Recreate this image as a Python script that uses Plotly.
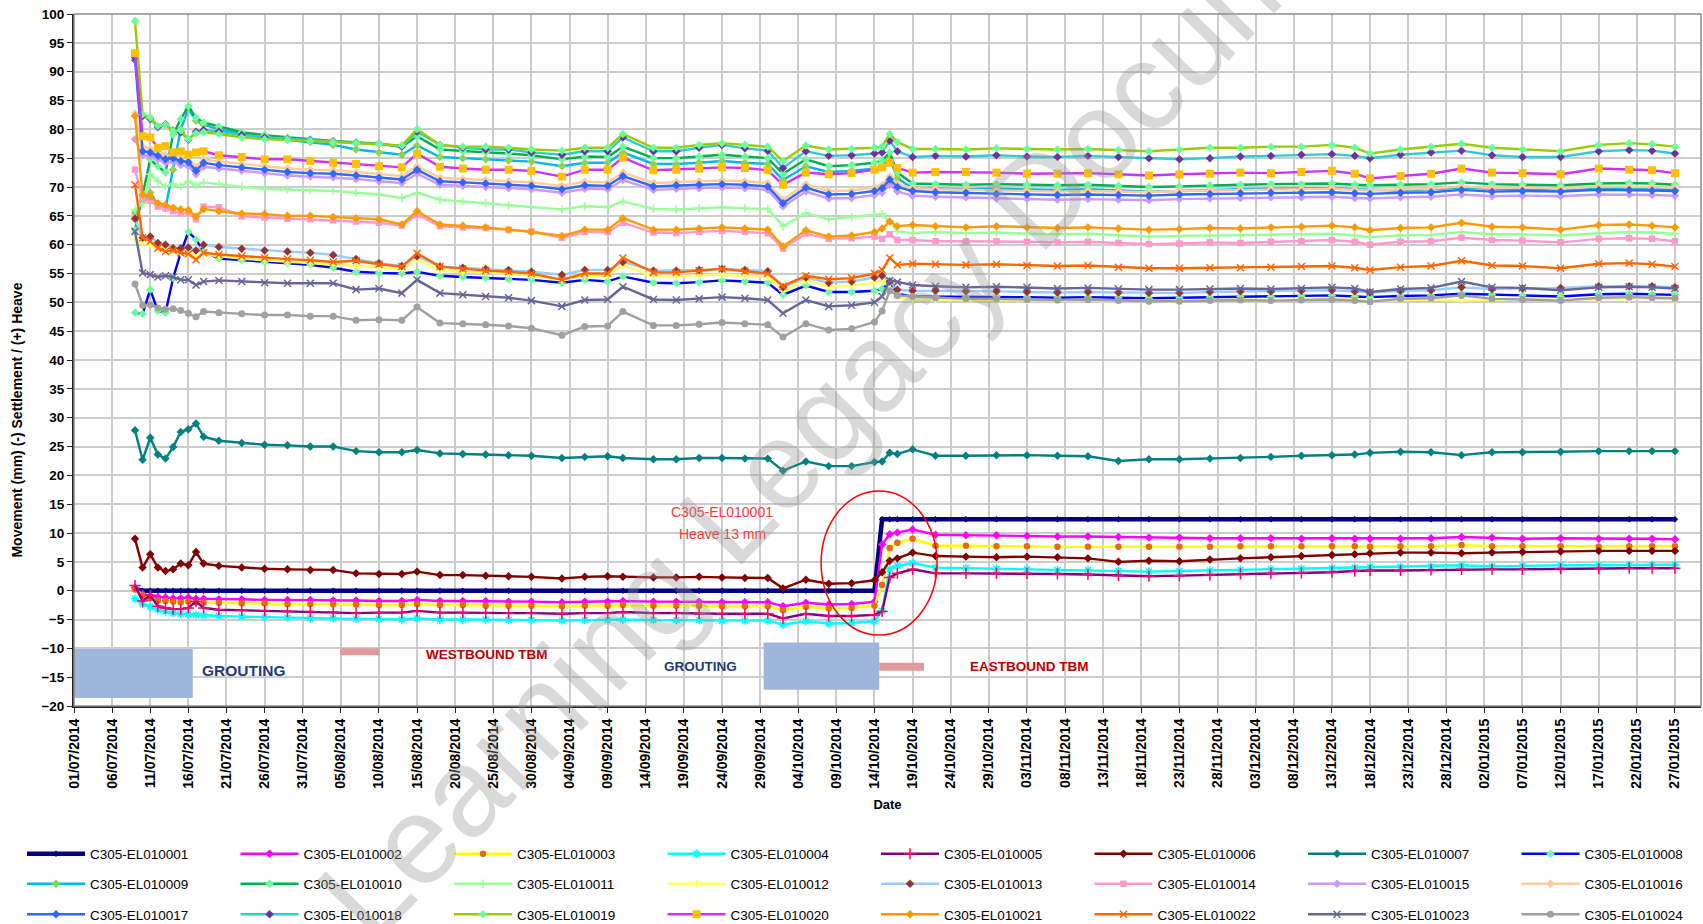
import plotly.graph_objects as go

FONT = "Liberation Sans, Arial, sans-serif"

dates = ["2014-07-09", "2014-07-10", "2014-07-11", "2014-07-12", "2014-07-13", "2014-07-14", "2014-07-15",
         "2014-07-16", "2014-07-17", "2014-07-18", "2014-07-20", "2014-07-23", "2014-07-26", "2014-07-29",
         "2014-08-01", "2014-08-04", "2014-08-07", "2014-08-10", "2014-08-13", "2014-08-15", "2014-08-18",
         "2014-08-21", "2014-08-24", "2014-08-27", "2014-08-30", "2014-09-03", "2014-09-06", "2014-09-09",
         "2014-09-11", "2014-09-15", "2014-09-18", "2014-09-21", "2014-09-24", "2014-09-27", "2014-09-30",
         "2014-10-02", "2014-10-05", "2014-10-08", "2014-10-11", "2014-10-14", "2014-10-15", "2014-10-16",
         "2014-10-17", "2014-10-19", "2014-10-22", "2014-10-26", "2014-10-30", "2014-11-03", "2014-11-07",
         "2014-11-11", "2014-11-15", "2014-11-19", "2014-11-23", "2014-11-27", "2014-12-01", "2014-12-05",
         "2014-12-09", "2014-12-13", "2014-12-16", "2014-12-18", "2014-12-22", "2014-12-26", "2014-12-30",
         "2015-01-03", "2015-01-07", "2015-01-12", "2015-01-17", "2015-01-21", "2015-01-24", "2015-01-27"]

s01 = [0.3, 0.0, 0.0, 0.0, 0.0, 0.0, 0.0, 0.0, 0.0, 0.0,
       0.0, 0.0, 0.0, 0.0, 0.0, 0.0, 0.0, 0.0, 0.0, 0.0,
       0.0, 0.0, 0.0, 0.0, 0.0, 0.0, 0.0, 0.0, 0.0, 0.0,
       0.0, 0.0, 0.0, 0.0, 0.0, 0.0, 0.0, 0.0, 0.0, 0.0,
       12.4, 12.4, 12.4, 12.4, 12.4, 12.4, 12.4, 12.4, 12.4, 12.4,
       12.4, 12.4, 12.4, 12.4, 12.4, 12.4, 12.4, 12.4, 12.4, 12.4,
       12.4, 12.4, 12.4, 12.4, 12.4, 12.4, 12.4, 12.4, 12.4, 12.4]
s02 = [0.5, -0.6, -0.9, -1.1, -1.2, -1.3, -1.3, -1.2, -1.4, -1.4,
       -1.5, -1.5, -1.6, -1.6, -1.6, -1.7, -1.7, -1.8, -1.8, -1.6,
       -1.8, -1.8, -1.8, -1.9, -1.9, -2.0, -1.9, -1.9, -1.8, -1.9,
       -1.9, -1.9, -2.0, -2.0, -2.0, -2.7, -2.1, -2.4, -2.3, -1.9,
       8.0, 9.8, 10.1, 10.6, 9.7, 9.6, 9.6, 9.5, 9.4, 9.4,
       9.3, 9.2, 9.2, 9.1, 9.1, 9.1, 9.0, 9.1, 9.0, 9.0,
       9.0, 9.1, 9.3, 9.2, 9.0, 9.1, 9.0, 9.0, 9.0, 8.9]
s03 = [0.2, -0.8, -1.3, -1.7, -1.8, -1.9, -2.0, -1.9, -2.0, -2.1,
       -2.1, -2.2, -2.2, -2.3, -2.3, -2.3, -2.4, -2.5, -2.5, -2.3,
       -2.5, -2.5, -2.6, -2.6, -2.6, -2.7, -2.6, -2.6, -2.5, -2.6,
       -2.6, -2.6, -2.7, -2.7, -2.7, -3.4, -2.8, -3.1, -3.0, -2.6,
       1.0, 7.4, 8.3, 9.0, 7.8, 7.8, 7.7, 7.7, 7.6, 7.6,
       7.6, 7.6, 7.6, 7.6, 7.7, 7.7, 7.7, 7.7, 7.7, 7.6,
       7.7, 7.7, 7.9, 7.7, 7.7, 7.7, 7.6, 7.7, 7.7, 7.7]
s04 = [-1.4, -2.3, -2.8, -3.3, -3.6, -3.9, -4.0, -4.1, -4.2, -4.3,
       -4.4, -4.5, -4.6, -4.7, -4.8, -4.8, -4.9, -4.9, -5.0, -4.8,
       -5.0, -5.0, -5.0, -5.1, -5.1, -5.2, -5.1, -5.1, -5.0, -5.1,
       -5.1, -5.1, -5.2, -5.2, -5.2, -5.9, -5.3, -5.7, -5.6, -5.3,
       -3.5, 3.8, 4.3, 4.8, 4.0, 3.9, 3.8, 3.7, 3.6, 3.6,
       3.4, 3.3, 3.4, 3.5, 3.6, 3.7, 3.8, 3.9, 4.0, 4.1,
       4.1, 4.2, 4.4, 4.2, 4.3, 4.4, 4.4, 4.4, 4.5, 4.5]
s05 = [0.9, -1.8, -0.8, -2.7, -3.0, -3.2, -3.2, -3.0, -1.9, -3.0,
       -3.3, -3.4, -3.5, -3.6, -3.6, -3.7, -3.9, -3.8, -3.8, -3.5,
       -3.8, -3.8, -3.9, -3.9, -3.9, -4.0, -3.9, -3.9, -3.7, -3.9,
       -3.9, -4.0, -4.0, -4.0, -4.0, -4.8, -4.0, -4.4, -4.4, -4.2,
       -3.6, 2.3, 3.0, 3.7, 3.0, 3.0, 3.0, 3.0, 2.9, 2.8,
       2.6, 2.5, 2.6, 2.7, 2.9, 3.0, 3.1, 3.2, 3.4, 3.5,
       3.5, 3.6, 3.7, 3.7, 3.7, 3.8, 3.8, 3.9, 3.9, 3.9]
s06 = [9.0, 4.0, 6.3, 4.0, 3.4, 3.7, 4.7, 4.4, 6.7, 4.7,
       4.3, 4.0, 3.8, 3.7, 3.6, 3.6, 3.0, 2.9, 2.9, 3.3,
       2.7, 2.7, 2.6, 2.5, 2.4, 2.1, 2.4, 2.5, 2.4, 2.3,
       2.3, 2.4, 2.3, 2.2, 2.2, 0.4, 1.9, 1.2, 1.3, 1.8,
       3.2, 5.2, 5.6, 6.6, 6.0, 5.9, 5.8, 5.9, 5.8, 5.6,
       5.0, 5.2, 5.1, 5.4, 5.6, 5.8, 6.0, 6.2, 6.3, 6.5,
       6.6, 6.6, 6.5, 6.6, 6.7, 6.8, 6.9, 6.9, 6.9, 6.9]
s07 = [27.8, 22.7, 26.5, 23.6, 22.9, 24.9, 27.5, 28.0, 29.0, 26.7,
       26.0, 25.6, 25.3, 25.2, 25.0, 25.0, 24.2, 24.0, 24.0, 24.4,
       23.8, 23.7, 23.6, 23.5, 23.4, 23.0, 23.2, 23.3, 23.0, 22.8,
       22.8, 23.0, 23.0, 22.9, 22.9, 20.8, 22.4, 21.6, 21.6, 22.3,
       22.4, 23.9, 23.7, 24.5, 23.4, 23.4, 23.5, 23.5, 23.4, 23.3,
       22.5, 22.8, 22.8, 22.9, 23.0, 23.2, 23.4, 23.5, 23.6, 23.9,
       24.1, 24.0, 23.5, 24.0, 24.0, 24.1, 24.2, 24.2, 24.2, 24.2]
s08 = [48.2, 48.0, 52.2, 48.5, 48.2, 54.2, 58.6, 62.2, 60.9, 58.8,
       57.6, 57.3, 57.0, 56.8, 56.5, 56.0, 55.3, 55.1, 55.0, 55.3,
       54.6, 54.4, 54.2, 54.0, 53.9, 53.4, 53.9, 53.6, 54.5, 53.4,
       53.3, 53.5, 53.8, 53.6, 53.4, 51.3, 52.9, 51.8, 51.8, 52.0,
       52.3, 53.5, 51.5, 51.0, 51.0, 50.9, 51.0, 50.9, 50.8, 50.9,
       50.8, 50.7, 50.8, 50.9, 51.0, 51.0, 51.1, 51.2, 51.0, 50.9,
       51.1, 51.2, 51.5, 51.3, 51.2, 51.0, 51.4, 51.5, 51.4, 51.3]
s09 = [65.5, 67.5, 69.0, 67.0, 66.3, 73.0, 80.0, 83.5, 81.5, 80.8,
       80.0, 79.2, 78.5, 78.2, 77.8, 77.3, 76.5, 76.0, 75.6, 77.2,
       75.2, 75.0, 74.8, 74.6, 74.4, 73.6, 74.2, 74.2, 76.0, 74.0,
       74.0, 74.2, 74.5, 74.2, 74.0, 71.2, 73.6, 72.6, 72.8, 73.2,
       73.6, 75.0, 71.5, 69.8, 69.7, 69.6, 69.7, 69.6, 69.5, 69.6,
       69.4, 69.2, 69.3, 69.5, 69.6, 69.7, 69.7, 69.8, 69.6, 69.5,
       69.4, 69.6, 69.9, 69.7, 69.6, 69.3, 69.7, 69.8, 69.7, 69.5]
s10 = [62.5, 68.4, 74.8, 73.6, 72.5, 79.1, 81.8, 84.0, 82.0, 81.2,
       80.5, 79.5, 79.0, 78.6, 78.3, 78.0, 77.8, 77.5, 77.0, 78.8,
       76.5, 76.2, 76.0, 75.8, 75.5, 74.8, 75.3, 75.2, 77.0, 75.0,
       75.0, 75.3, 75.6, 75.3, 75.0, 72.3, 74.8, 73.6, 73.8, 74.2,
       74.6, 76.0, 72.5, 70.6, 70.5, 70.4, 70.5, 70.4, 70.3, 70.4,
       70.2, 70.0, 70.1, 70.3, 70.4, 70.5, 70.5, 70.6, 70.4, 70.3,
       70.4, 70.5, 70.8, 70.5, 70.4, 70.3, 70.6, 70.7, 70.6, 70.4]
s11 = [66.0, 67.2, 72.2, 71.0, 70.1, 70.5, 70.1, 71.0, 70.3, 70.8,
       70.5, 70.0, 69.7, 69.6, 69.5, 69.3, 69.0, 68.7, 68.1, 69.0,
       67.8, 67.5, 67.2, 66.8, 66.5, 66.1, 66.7, 66.5, 67.5, 66.2,
       66.1, 66.3, 66.5, 66.3, 66.2, 63.2, 65.5, 64.4, 64.8, 65.2,
       65.3, 64.0, 62.3, 62.0, 62.2, 62.0, 62.1, 61.9, 61.8, 61.9,
       61.6, 61.4, 61.5, 61.6, 61.6, 61.7, 61.8, 61.9, 61.6, 61.3,
       61.6, 61.7, 62.2, 61.8, 61.8, 61.6, 62.0, 62.2, 62.1, 61.9]
s12 = [61.0, 60.2, 60.0, 59.5, 59.2, 58.9, 58.7, 58.5, 58.0, 58.3,
       58.0, 57.6, 57.3, 57.0, 56.8, 56.6, 56.3, 56.0, 55.8, 57.5,
       55.5, 55.3, 55.2, 55.0, 54.6, 54.0, 54.6, 54.6, 56.5, 54.5,
       54.5, 54.6, 54.8, 54.6, 54.4, 52.0, 53.8, 52.8, 52.9, 53.4,
       53.8, 52.5, 50.8, 50.5, 50.5, 50.4, 50.5, 50.4, 50.3, 50.4,
       50.3, 50.2, 50.2, 50.4, 50.5, 50.4, 50.5, 50.6, 50.5, 50.2,
       50.4, 50.5, 50.3, 50.5, 50.6, 50.4, 50.6, 50.7, 50.6, 50.6]
s13 = [64.5, 61.2, 61.4, 60.3, 60.0, 59.4, 59.4, 59.5, 59.0, 60.0,
       59.6, 59.3, 59.0, 58.8, 58.6, 58.2, 57.5, 56.8, 56.3, 58.0,
       56.2, 56.0, 55.8, 55.6, 55.3, 54.8, 55.6, 55.6, 57.0, 55.5,
       55.5, 55.6, 55.8, 55.6, 55.4, 52.6, 54.3, 53.4, 53.6, 54.3,
       54.6, 53.6, 52.2, 52.0, 52.0, 51.9, 51.9, 51.8, 51.7, 51.8,
       51.7, 51.6, 51.6, 51.8, 51.9, 51.9, 52.0, 52.1, 51.9, 51.7,
       52.0, 52.1, 52.6, 52.3, 52.4, 52.5, 52.8, 52.8, 52.8, 52.6]
s14 = [73.0, 68.0, 67.6, 66.6, 66.3, 65.8, 65.4, 65.5, 64.4, 66.6,
       66.5, 64.9, 64.7, 64.5, 64.4, 64.2, 64.0, 63.8, 63.3, 65.2,
       63.2, 63.0, 62.9, 62.6, 62.3, 61.2, 62.2, 62.2, 63.8, 62.1,
       62.0, 62.2, 62.4, 62.2, 62.0, 59.3, 61.9, 61.0, 61.1, 61.4,
       61.0, 61.8, 60.8, 60.8, 60.6, 60.6, 60.6, 60.5, 60.4, 60.5,
       60.3, 60.1, 60.2, 60.4, 60.3, 60.5, 60.6, 60.8, 60.5, 60.0,
       60.5, 60.6, 61.2, 60.8, 60.7, 60.4, 61.0, 61.1, 61.0, 60.6]
s15 = [78.3, 75.6, 75.3, 74.8, 74.2, 74.4, 73.8, 73.6, 72.2, 73.5,
       73.2, 72.8, 72.4, 72.0, 71.8, 71.7, 71.4, 71.0, 70.7, 72.3,
       70.4, 70.2, 70.0, 69.8, 69.6, 69.0, 69.7, 69.6, 71.2, 69.5,
       69.7, 69.8, 69.9, 69.8, 69.5, 66.6, 69.2, 68.0, 68.1, 68.6,
       69.0, 70.4, 69.2, 68.5, 68.3, 68.2, 68.0, 67.9, 67.8, 67.9,
       67.8, 67.7, 67.9, 68.0, 68.1, 68.2, 68.2, 68.3, 68.1, 68.0,
       68.2, 68.3, 68.7, 68.4, 68.5, 68.4, 68.7, 68.7, 68.6, 68.5]
s16 = [82.8, 77.0, 76.6, 76.0, 75.5, 75.6, 75.1, 74.9, 73.5, 74.8,
       74.4, 74.0, 73.6, 73.2, 73.0, 72.9, 72.6, 72.2, 71.9, 73.6,
       71.6, 71.4, 71.2, 71.0, 70.8, 70.2, 70.9, 70.8, 72.5, 70.7,
       70.9, 71.0, 71.1, 71.0, 70.7, 67.8, 70.5, 69.3, 69.4, 69.9,
       70.3, 71.8, 70.5, 69.8, 69.6, 69.5, 69.4, 69.3, 69.2, 69.3,
       69.2, 69.1, 69.3, 69.4, 69.5, 69.6, 69.6, 69.7, 69.5, 69.4,
       69.6, 69.7, 70.1, 69.8, 69.9, 69.8, 70.1, 70.1, 70.0, 69.9]
s17 = [92.0, 76.2, 76.0, 75.4, 74.8, 75.0, 74.5, 74.3, 72.8, 74.2,
       73.8, 73.4, 73.0, 72.6, 72.4, 72.3, 72.0, 71.6, 71.3, 73.0,
       71.0, 70.8, 70.6, 70.4, 70.2, 69.6, 70.3, 70.2, 71.9, 70.1,
       70.3, 70.4, 70.5, 70.4, 70.1, 67.2, 69.9, 68.7, 68.8, 69.3,
       69.8, 71.3, 70.0, 69.3, 69.1, 69.0, 68.8, 68.7, 68.6, 68.7,
       68.6, 68.5, 68.7, 68.8, 68.9, 69.0, 69.0, 69.1, 68.9, 68.8,
       69.0, 69.1, 69.5, 69.2, 69.3, 69.2, 69.5, 69.5, 69.4, 69.3]
s18 = [92.5, 82.3, 81.8, 80.4, 80.9, 79.8, 79.5, 78.2, 79.6, 79.9,
       79.6, 79.0, 78.6, 78.3, 78.1, 77.9, 77.6, 77.5, 77.0, 79.6,
       77.3, 76.8, 76.5, 76.5, 76.0, 75.6, 76.2, 76.2, 78.6, 76.2,
       76.2, 76.8, 77.3, 76.7, 76.3, 73.3, 76.2, 75.4, 75.5, 75.8,
       76.0, 78.0, 76.2, 75.2, 75.4, 75.3, 75.5, 75.3, 75.2, 75.4,
       75.2, 75.0, 74.8, 75.0, 75.3, 75.4, 75.6, 75.7, 75.4, 75.0,
       75.6, 76.0, 76.3, 75.5, 75.2, 75.2, 76.2, 76.4, 76.3, 75.8]
s19 = [98.8, 82.6, 82.0, 80.6, 80.8, 79.7, 79.8, 78.3, 79.3, 79.5,
       79.2, 78.6, 78.3, 78.2, 78.0, 77.8, 77.6, 77.5, 77.2, 80.0,
       77.3, 77.0, 77.0, 76.8, 76.5, 76.3, 76.8, 76.8, 79.2, 76.8,
       76.8, 77.3, 77.6, 77.3, 77.0, 74.5, 77.2, 76.5, 76.6, 76.8,
       77.0, 79.2, 77.8, 76.6, 76.6, 76.5, 76.7, 76.6, 76.5, 76.6,
       76.4, 76.2, 76.5, 76.8, 76.8, 77.0, 77.0, 77.3, 76.8, 75.8,
       76.5, 77.0, 77.5, 76.8, 76.5, 76.2, 77.3, 77.6, 77.4, 77.0]
s20 = [93.2, 78.8, 78.6, 76.8, 77.1, 76.0, 76.2, 75.6, 76.0, 76.2,
       75.5, 75.2, 74.8, 74.8, 74.5, 74.2, 74.0, 73.6, 73.4, 75.8,
       73.5, 73.2, 73.0, 73.0, 72.8, 71.8, 73.0, 73.0, 75.1, 72.9,
       73.0, 73.2, 73.4, 73.3, 72.9, 70.4, 72.5, 72.2, 72.4, 73.0,
       73.4, 74.2, 73.3, 72.5, 72.6, 72.6, 72.5, 72.3, 72.3, 72.4,
       72.2, 72.0, 72.2, 72.3, 72.5, 72.4, 72.6, 72.8, 72.3, 71.5,
       71.9, 72.3, 73.2, 72.5, 72.4, 72.2, 73.2, 73.0, 72.9, 72.4]
s21 = [82.3, 68.7, 68.4, 67.2, 66.9, 66.4, 66.1, 66.0, 64.9, 66.2,
       65.8, 65.4, 65.3, 65.0, 65.0, 64.8, 64.6, 64.4, 63.5, 65.8,
       63.5, 63.3, 63.0, 62.6, 62.2, 61.5, 62.6, 62.6, 64.6, 62.6,
       62.6, 62.8, 63.0, 62.8, 62.6, 59.7, 62.5, 61.4, 61.6, 62.2,
       62.8, 64.0, 63.2, 63.4, 63.2, 63.0, 63.2, 63.0, 62.9, 63.0,
       62.8, 62.6, 62.7, 62.9, 62.8, 63.0, 63.1, 63.3, 63.0, 62.5,
       62.9, 63.0, 63.8, 63.1, 63.0, 62.6, 63.4, 63.5, 63.3, 63.0]
s22 = [70.4, 61.2, 60.6, 59.4, 58.8, 59.0, 58.6, 58.4, 57.4, 58.6,
       58.3, 58.0, 57.7, 57.5, 57.3, 57.0, 57.2, 56.6, 56.2, 58.5,
       56.2, 55.8, 55.5, 55.3, 55.0, 53.9, 55.0, 55.0, 57.7, 55.2,
       55.2, 55.5, 55.8, 55.4, 55.0, 52.8, 54.6, 54.0, 54.2, 55.0,
       55.6, 57.7, 56.5, 56.7, 56.6, 56.5, 56.6, 56.4, 56.3, 56.4,
       56.1, 55.9, 55.9, 56.0, 56.0, 56.1, 56.2, 56.3, 56.0, 55.6,
       56.1, 56.3, 57.2, 56.4, 56.3, 55.9, 56.7, 56.8, 56.6, 56.2]
s23 = [62.3, 55.1, 54.8, 54.4, 54.6, 54.4, 53.9, 53.9, 53.0, 53.6,
       53.8, 53.6, 53.4, 53.3, 53.3, 53.3, 52.2, 52.4, 51.6, 53.9,
       51.6, 51.3, 51.0, 50.8, 50.3, 49.3, 50.4, 50.5, 52.7, 50.5,
       50.4, 50.6, 50.9, 50.7, 50.4, 48.1, 50.4, 49.3, 49.5, 50.0,
       51.0, 53.8, 53.5, 53.0, 52.8, 52.6, 52.7, 52.6, 52.4, 52.5,
       52.3, 52.2, 52.2, 52.3, 52.4, 52.3, 52.4, 52.6, 52.4, 51.8,
       52.3, 52.5, 53.6, 52.6, 52.5, 52.1, 52.6, 52.7, 52.6, 52.4]
s24 = [53.2, 49.5, 49.6, 49.0, 48.8, 48.9, 48.6, 48.1, 47.5, 48.4,
       48.2, 48.0, 47.8, 47.8, 47.6, 47.6, 46.9, 47.0, 46.9, 49.2,
       46.4, 46.3, 46.1, 45.9, 45.5, 44.3, 45.8, 45.9, 48.4, 46.0,
       46.0, 46.2, 46.5, 46.3, 46.1, 44.0, 46.3, 45.2, 45.4, 46.6,
       48.5, 52.0, 51.2, 51.0, 50.8, 50.6, 50.6, 50.5, 50.4, 50.5,
       50.3, 50.2, 50.2, 50.3, 50.4, 50.3, 50.4, 50.5, 50.3, 50.1,
       50.6, 50.7, 51.2, 50.6, 50.5, 50.3, 50.8, 50.9, 50.8, 50.7]

names = ["C305-EL010001", "C305-EL010002", "C305-EL010003", "C305-EL010004", "C305-EL010005",
         "C305-EL010006", "C305-EL010007", "C305-EL010008", "C305-EL010009", "C305-EL010010",
         "C305-EL010011", "C305-EL010012", "C305-EL010013", "C305-EL010014", "C305-EL010015",
         "C305-EL010016", "C305-EL010017", "C305-EL010018", "C305-EL010019", "C305-EL010020",
         "C305-EL010021", "C305-EL010022", "C305-EL010023", "C305-EL010024"]
series = [s01, s02, s03, s04, s05, s06, s07, s08, s09, s10, s11, s12,
          s13, s14, s15, s16, s17, s18, s19, s20, s21, s22, s23, s24]

# styles
line_colors = ["#000080", "#ff00ff", "#ffff00", "#00ffff", "#800080", "#800000", "#008080", "#0000ff",
               "#00b8f0", "#00b050", "#99ff99", "#ffff66", "#99ccff", "#ff99cc", "#cc99ff", "#ffcc99",
               "#3366ff", "#33cccc", "#99cc00", "#cc33ff", "#ff9900", "#ff6600", "#666699", "#a0a0a0"]
marker_colors = ["#000080", "#ff00ff", "#e46c0a", "#00ffff", "#ff0066", "#800000", "#008080", "#66ff99",
                 "#92d050", "#66ff99", "#99ff99", "#ffff66", "#993333", "#ff99cc", "#cc99ff", "#ffcc99",
                 "#3366ff", "#7030a0", "#66ff99", "#ffc000", "#ff9900", "#ff6600", "#666699", "#a0a0a0"]
symbols = ["diamond", "diamond", "circle", "asterisk-open", "cross-thin-open", "diamond", "diamond", "diamond",
           "diamond", "diamond", "cross-thin-open", "cross-thin-open", "diamond", "square", "diamond", "diamond",
           "diamond", "diamond", "diamond", "square", "diamond", "x-thin-open", "x-thin-open", "circle"]
marker_sizes = [5, 6.5, 6.5, 7, 8, 6.5, 6.5, 6.5, 6.5, 6.5, 6, 6, 6.5, 6.5, 6.5, 6.5, 6.5, 6.5, 6.5, 8, 6.5, 7, 7, 7]
line_widths = [4.5, 2.4, 2.4, 2.4, 2.4, 2.4, 2.4, 2.4, 2.4, 2.4, 2.4, 2.4,
               2.4, 2.4, 2.4, 2.4, 2.4, 2.4, 2.4, 2.4, 2.4, 2.4, 2.4, 2.4]

W, H = 1703, 924
# legend grid: 8 columns x 3 rows, one legend per entry
col_px = [22.0 + 213.5 * k for k in range(8)]
row_y = [0.0758, 0.0433, 0.0103]

fig = go.Figure()
legend_layouts = {}
for i in range(24):
    open_sym = symbols[i].endswith("-open")
    lid = "legend" if i == 0 else "legend%d" % (i + 1)
    fig.add_trace(go.Scatter(
        x=dates, y=series[i], name=names[i], mode="lines+markers",
        line=dict(color=line_colors[i], width=line_widths[i]),
        marker=dict(symbol=symbols[i], size=marker_sizes[i], color=marker_colors[i],
                    line=dict(color=marker_colors[i], width=1.5 if open_sym else 0)),
        legend=lid,
    ))
    legend_layouts[lid] = dict(orientation="h", xref="container", yref="container",
                               x=col_px[i % 8] / W, y=row_y[i // 8], xanchor="left", yanchor="middle",
                               itemwidth=58, font=dict(family=FONT, size=13.5, color="black"),
                               bgcolor="rgba(0,0,0,0)")

shapes = [
    # white label box
    dict(type="rect", xref="paper", yref="paper", x0=0.343, x1=0.4536, y0=0.188, y1=0.311,
         fillcolor="white", line=dict(width=0), layer="between"),
    # grouting blocks
    dict(type="rect", xref="x", yref="y", x0="2014-07-01", x1="2014-07-16 14:00", y0=-18.6, y1=-10.1,
         fillcolor="#9fb6da", line=dict(width=0), layer="between"),
    dict(type="rect", xref="x", yref="y", x0="2014-09-29 11:00", x1="2014-10-14 15:00", y0=-17.2, y1=-9.0,
         fillcolor="#9fb6da", line=dict(width=0), layer="between"),
    # TBM bars
    dict(type="rect", xref="x", yref="y", x0="2014-08-04 22:00", x1="2014-08-10 02:00", y0=-11.2, y1=-10.0,
         fillcolor="#e09a9a", line=dict(width=0), layer="between"),
    dict(type="rect", xref="x", yref="y", x0="2014-10-14 15:00", x1="2014-10-20 12:00", y0=-13.9, y1=-12.5,
         fillcolor="#e09a9a", line=dict(width=0), layer="between"),
    # ellipse
    dict(type="circle", xref="x", yref="y", x0="2014-10-07 00:00", x1="2014-10-22 05:00", y0=-7.7, y1=17.3,
         line=dict(color="#ff0000", width=1.5), fillcolor="rgba(0,0,0,0)", layer="above"),
    # gray frame top/right
    dict(type="rect", xref="paper", yref="paper", x0=0, x1=1, y0=0, y1=1,
         line=dict(color="#8c8c8c", width=1.5), fillcolor="rgba(0,0,0,0)", layer="above"),
]

def ann(text, x, y, size, color, **kw):
    d = dict(text=text, x=x, y=y, xref="paper", yref="paper", showarrow=False,
             xanchor="center", yanchor="middle", font=dict(family=FONT, size=size, color=color))
    d.update(kw)
    return d

annotations = [
    ann("<b>GROUTING</b>", 0.1045, 0.0506, 15.5, "#1f3a7a"),
    ann("<b>WESTBOUND TBM</b>", 0.2538, 0.0751, 13.5, "#c00000"),
    ann("<b>GROUTING</b>", 0.3848, 0.0564, 13.5, "#1f3a7a"),
    ann("<b>EASTBOUND TBM</b>", 0.5870, 0.0578, 13.5, "#c00000"),
    ann("C305-EL010001", 0.3983, 0.2803, 14, "#f03c3c"),
    ann("Heave 13 mm", 0.3983, 0.2486, 14, "#f03c3c"),
    ann("<b>Movement (mm) (-) Settlement / (+) Heave</b>", -0.0348, 0.413, 14, "black", textangle=-90),
    ann("Learning Legacy Document", 0.491, 0.490, 125, "rgba(150,150,150,0.36)", textangle=-46),
]

fig.update_layout(
    width=W, height=H, autosize=False,
    margin=dict(l=74, r=2, t=14, b=218),
    paper_bgcolor="white", plot_bgcolor="white",
    font=dict(family=FONT, color="black"),
    showlegend=True,
    shapes=shapes, annotations=annotations,
    xaxis=dict(type="date", range=["2014-07-01", "2015-01-30 10:00"],
               tick0="2014-07-01", dtick=5 * 86400000, tickformat="%d/%m/%Y", tickangle=-90,
               tickfont=dict(family=FONT, size=14, color="black", weight="bold"),
               showgrid=True, gridcolor="#cccccc", gridwidth=1.5,
               showline=True, linecolor="#222222", linewidth=2,
               ticks="outside", ticklen=5, tickcolor="#222222",
               title=dict(text="<b>Date</b>", font=dict(family=FONT, size=13, color="black"), standoff=12),
               zeroline=False, automargin=False),
    yaxis=dict(range=[-20, 100], dtick=5, tick0=0,
               tickfont=dict(family=FONT, size=13.5, color="black", weight="bold"),
               showgrid=True, gridcolor="#cccccc", gridwidth=1.5,
               showline=True, linecolor="#222222", linewidth=2,
               ticks="outside", ticklen=5, tickcolor="#222222",
               zeroline=False, automargin=False),
    **legend_layouts,
)

post = ("document.body.style.margin='0';document.body.style.padding='0';"
        "document.documentElement.style.overflow='hidden';"
        "Plotly.relayout('{plot_id}', {width: 1703, height: 924});")

fig.write_html("out.html", post_script=post, config={"displayModeBar": False})
